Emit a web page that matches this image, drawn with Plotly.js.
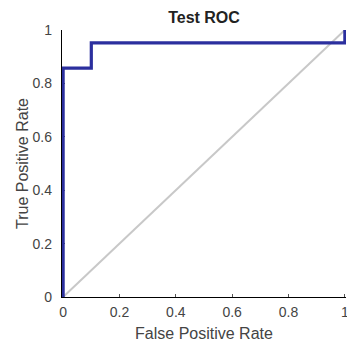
<!DOCTYPE html>
<html><head><meta charset="utf-8">
<script src="https://cdn.plot.ly/plotly-3.0.1.min.js"></script>
<style>html,body{margin:0;padding:0;background:#fff}#c{width:347px;height:342px}</style>
</head><body><div id="c"></div>
<script>
const fpr = [0, 0, 0.1, 0.1, 1, 1];
const tpr = [0, 0.857, 0.857, 0.952, 0.952, 1];
const diagX = [0, 1];
const diagY = [0, 1];
const tickVals = [0, 0.2, 0.4, 0.6, 0.8, 1];
const tickText = ['0', '0.2', '0.4', '0.6', '0.8', '1'];

const F = 'Liberation Sans, Arial, sans-serif';
const axisCommon = {
  tickvals: tickVals, ticktext: tickText,
  ticks: 'inside', ticklen: 3, tickcolor: '#555', showgrid: false, zeroline: false,
  showline: true, linecolor: '#000', linewidth: 1.2, mirror: false,
  layer: 'below traces',
  ticklabeloverflow: 'allow',
  tickfont: {family: F, size: 14, color: '#444'}
};
Plotly.newPlot('c', [
  {x: diagX, y: diagY, mode: 'lines', line: {color: '#c8c8c8', width: 2}, hoverinfo: 'skip'},
  {x: fpr, y: tpr, mode: 'lines', line: {color: '#2b2f9e', width: 3.2}, cliponaxis: false}
], {
  width: 347, height: 342, showlegend: false,
  margin: {l: 62, r: 1, t: 30, b: 45},
  paper_bgcolor: '#fff', plot_bgcolor: '#fff',
  title: {text: '<b>Test ROC</b>', xref: 'paper', x: 0.5, xanchor: 'center', yref: 'container', y: 0.95, yanchor: 'middle',
    font: {family: F, size: 16, color: '#222'}},
  xaxis: Object.assign({}, axisCommon, {
    range: [-0.004, 1.004],
    ticklabelstandoff: 2,
    title: {text: 'False Positive Rate', standoff: 11, font: {family: F, size: 16, color: '#444'}}
  }),
  yaxis: Object.assign({}, axisCommon, {
    range: [0, 1],
    ticklabelstandoff: 6,
    title: {text: 'True Positive Rate', standoff: 0, font: {family: F, size: 16, color: '#444'}}
  })
}, {displayModeBar: false, staticPlot: true});
</script></body></html>
